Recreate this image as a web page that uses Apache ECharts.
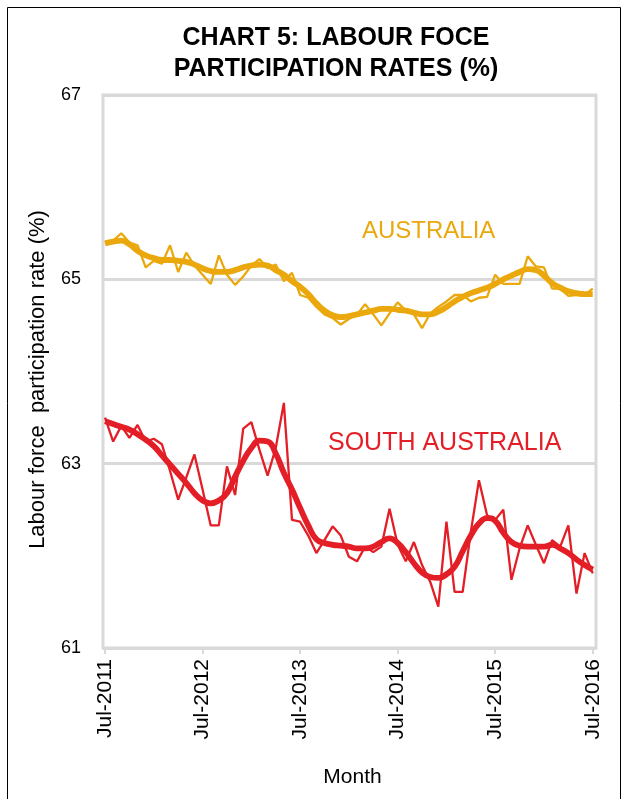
<!DOCTYPE html>
<html>
<head>
<meta charset="utf-8">
<script src="https://cdn.jsdelivr.net/npm/echarts@6/dist/echarts.min.js"></script>
<style>
html,body{margin:0;padding:0;background:#fff;}
#chart{width:624px;height:799px;}
</style>
</head>
<body>
<div id="chart"></div>
<script>
// Months Jul-2011 .. Jul-2016 (index 0..60)
const tickIndex = [0, 12, 24, 36, 48, 60];
const tickLabels = ['Jul-2011', 'Jul-2012', 'Jul-2013', 'Jul-2014', 'Jul-2015', 'Jul-2016'];

const ausRaw = [65.39,65.42,65.50,65.40,65.37,65.13,65.20,65.17,65.37,65.08,
  65.29,65.15,65.05,64.95,65.26,65.05,64.94,65.03,65.15,65.22,
  65.12,65.16,64.98,65.07,64.83,64.80,64.70,64.62,64.58,64.51,
  64.57,64.62,64.73,64.62,64.50,64.63,64.75,64.66,64.62,64.47,
  64.63,64.70,64.76,64.83,64.83,64.76,64.80,64.81,65.05,64.95,
  64.95,64.95,65.25,65.14,65.13,64.90,64.90,64.82,64.83,64.83,64.90];

const ausTrend = [65.39,65.41,65.42,65.38,65.31,65.26,65.23,65.21,65.21,65.20,
  65.19,65.16,65.12,65.09,65.08,65.08,65.10,65.13,65.15,65.16,
  65.15,65.10,65.05,64.98,64.92,64.84,64.74,64.66,64.61,64.59,
  64.60,64.62,64.64,64.66,64.68,64.68,64.67,64.66,64.64,64.62,
  64.62,64.65,64.70,64.76,64.81,64.85,64.88,64.91,64.95,65.00,
  65.04,65.08,65.11,65.10,65.04,64.96,64.91,64.87,64.85,64.84,64.84];

const saRaw = [63.50,63.24,63.41,63.28,63.42,63.24,63.27,63.21,62.92,62.61,
  62.85,63.10,62.72,62.33,62.33,62.97,62.66,63.38,63.45,63.15,
  62.87,63.17,63.66,62.39,62.37,62.22,62.03,62.17,62.32,62.22,
  61.99,61.94,62.10,62.04,62.10,62.51,62.12,61.94,62.15,61.90,
  61.72,61.45,62.37,61.61,61.61,62.26,62.82,62.44,62.39,62.50,
  61.74,62.08,62.33,62.12,61.92,62.17,62.10,62.33,61.59,62.03,61.81];

const saTrend = [63.46,63.43,63.40,63.37,63.32,63.26,63.19,63.09,62.99,62.89,
  62.79,62.68,62.60,62.57,62.60,62.68,62.86,63.03,63.17,63.25,
  63.24,63.11,62.90,62.72,62.52,62.33,62.18,62.14,62.12,62.11,
  62.10,62.08,62.08,62.10,62.15,62.19,62.14,62.04,61.92,61.82,
  61.77,61.76,61.80,61.88,62.05,62.22,62.35,62.41,62.38,62.25,
  62.15,62.11,62.10,62.10,62.10,62.12,62.08,62.03,61.96,61.90,61.85];

const AUS_COLOR = '#EAA80C';
const SA_COLOR = '#E31E26';
const GRID_GREY = '#D9D9D9';
const FONT = 'Liberation Sans, Arial, sans-serif';

const pairs = arr => arr.map((v, i) => [i, v]);

const chart = echarts.init(document.getElementById('chart'), null, {renderer: 'canvas'});
chart.setOption({
  animation: false,
  backgroundColor: '#fff',
  textStyle: {fontFamily: FONT},
  title: {
    text: 'CHART 5: LABOUR FOCE\nPARTICIPATION RATES (%)',
    left: 331, top: 18, textAlign: 'center',
    textStyle: {fontFamily: FONT, fontSize: 25, fontWeight: 'bold', color: '#000', lineHeight: 31}
  },
  grid: {
    left: 103, right: 28, top: 95, bottom: 151,
    show: true, borderColor: GRID_GREY, borderWidth: 3, containLabel: false
  },
  xAxis: {
    type: 'value', min: -0.25, max: 60.4,
    name: 'Month', nameLocation: 'middle', nameGap: 119,
    nameTextStyle: {fontFamily: FONT, fontSize: 21, color: '#000', padding: [0, 0, 0, 6]},
    axisLine: {show: false},
    axisTick: {show: true, customValues: tickIndex, length: 6, lineStyle: {color: GRID_GREY, width: 2}},
    axisLabel: {
      show: true, customValues: tickIndex, rotate: 90, margin: 11,
      fontFamily: FONT, fontSize: 21, color: '#000',
      formatter: v => tickLabels[tickIndex.indexOf(Math.round(v))] || ''
    },
    splitLine: {show: false}
  },
  yAxis: {
    type: 'value', min: 61, max: 67, interval: 2,
    name: 'Labour force  participation rate (%)', nameLocation: 'middle', nameGap: 54,
    nameTextStyle: {fontFamily: FONT, fontSize: 22, color: '#000', padding: [0, 16, 0, 0]},
    axisLine: {show: false},
    axisTick: {show: false},
    axisLabel: {fontFamily: FONT, fontSize: 18, color: '#000', margin: 22},
    splitLine: {show: true, lineStyle: {color: GRID_GREY, width: 3}}
  },
  series: [
    {name: 'Australia', type: 'line', data: pairs(ausRaw), showSymbol: false, symbol: 'none',
      lineStyle: {color: AUS_COLOR, width: 2.3}, z: 3},
    {name: 'Australia trend', type: 'line', data: pairs(ausTrend), showSymbol: false, symbol: 'none', smooth: 0.5,
      lineStyle: {color: AUS_COLOR, width: 5.8}, z: 4},
    {name: 'South Australia', type: 'line', data: pairs(saRaw), showSymbol: false, symbol: 'none',
      lineStyle: {color: SA_COLOR, width: 2.3}, z: 3},
    {name: 'South Australia trend', type: 'line', data: pairs(saTrend), showSymbol: false, symbol: 'none', smooth: 0.5,
      lineStyle: {color: SA_COLOR, width: 5.8}, z: 4}
  ],
  graphic: [
    {type: 'rect', shape: {x: 7.5, y: 7.5, width: 613, height: 795}, style: {fill: 'none', stroke: '#000', lineWidth: 1}, silent: true},
    {type: 'text', left: 362, top: 219, style: {text: 'AUSTRALIA', fill: AUS_COLOR, font: '24px ' + FONT}},
    {type: 'text', left: 328, top: 431, style: {text: 'SOUTH AUSTRALIA', fill: SA_COLOR, font: '25px ' + FONT}}
  ]
});
</script>
</body>
</html>
